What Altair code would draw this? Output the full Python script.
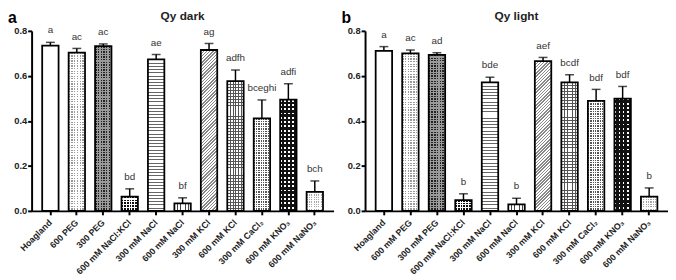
import math
import altair as alt
import pandas as pd

# ---------------- data ----------------
cats_a = ["Hoagland", "600 PEG", "300 PEG", "600 mM NaCl:KCl", "300 mM NaCl",
          "600 mM NaCl", "300 mM KCl", "600 mM KCl", "300 mM CaCl₂",
          "600 mM KNO₃", "600 mM NaNO₃"]
cats_b = ["Hoagland", "600 mM PEG", "300 mM PEG", "600 mM NaCl:KCl", "300 mM NaCl",
          "600 mM NaCl", "300 mM KCl", "600 mM KCl", "300 mM CaCl₂",
          "600 mM KNO₃", "600 mM NaNO₃"]
mean_a = [0.734, 0.703, 0.732, 0.063, 0.673, 0.033, 0.715, 0.577, 0.411, 0.494, 0.084]
sd_a = [0.015, 0.019, 0.010, 0.035, 0.022, 0.025, 0.029, 0.049, 0.082, 0.071, 0.049]
let_a = ["a", "ac", "ac", "bd", "ae", "bf", "ag", "adfh", "bceghi", "adfi", "bch"]
mean_b = [0.711, 0.700, 0.693, 0.048, 0.571, 0.029, 0.666, 0.571, 0.489, 0.499, 0.063]
sd_b = [0.019, 0.015, 0.010, 0.028, 0.023, 0.027, 0.016, 0.034, 0.051, 0.054, 0.039]
let_b = ["a", "ac", "ad", "b", "bde", "b", "aef", "bcdf", "bdf", "bdf", "b"]
patterns = ["white", "dots_light", "dots_dark", "squares", "hlines", "vlines",
            "diag", "grid", "dots_mid", "dots_inv", "dots_light2"]
yticks = [0.0, 0.2, 0.4, 0.6, 0.8]

H = 183
YMAX = 0.8
PI, PO = 0.38, 0.4
FONT = "Liberation Sans"
CLEAR = "rgba(255,255,255,0)"


def stripes(n, fg, bg, frac):
    n = max(1, int(round(n)))
    st = []
    for i in range(n):
        a, b, c = i / n, (i + frac) / n, (i + 1) / n
        st += [(a, fg), (b, fg), (b, bg), (c, bg)]
    return st


def grad(x2, y2, st):
    return alt.LinearGradient(
        gradient="linear", x1=0, y1=0, x2=x2, y2=y2,
        stops=[alt.GradientStop(offset=round(o, 5), color=c) for o, c in st])


def pattern_fills(p, w, h):
    if p == "white":
        return ["white"]
    if p == "hlines":
        return [grad(0, 1, stripes(h / 3.3, "#666", "white", 0.3))]
    if p == "vlines":
        return [grad(1, 0, stripes(w / 3.0, "#444", "white", 0.3))]
    if p == "grid":
        return [grad(1, 0, stripes(w / 3.0, "#555", "white", 0.3)),
                grad(0, 1, stripes(h / 3.0, "#555", CLEAR, 0.3))]
    if p == "diag":
        s = (w + h) / (w * w + h * h)
        n = (w + h) / math.sqrt(2) / 2.3
        return [grad(s * w, s * h, stripes(n, "#888", "white", 0.45))]

    def dots(fg, bg, period, f):
        return [grad(1, 0, stripes(w / period, fg, bg, f)),
                grad(0, 1, stripes(h / period, CLEAR, bg, f))]
    if p == "dots_light":
        return dots("#9a9a9a", "white", 2.6, 0.5)
    if p == "dots_light2":
        return dots("#a8a8a8", "white", 2.4, 0.5)
    if p == "dots_dark":
        return dots("#222", "#9a9a9a", 2.6, 0.55)
    if p == "dots_mid":
        return dots("#555", "white", 2.5, 0.6)
    if p == "squares":
        return dots("#111", "white", 3.0, 0.6)
    if p == "dots_inv":
        return dots("white", "#111", 4.3, 0.45)
    return ["white"]


def panel(cats, means, sds, lets, W, title, letter):
    df = pd.DataFrame({"i": list(range(len(cats))), "cat": cats, "mean": means,
                       "sd": sds, "let": lets})
    df["top"] = df["mean"] + df["sd"]
    n = len(cats)
    step = W / (n - PI + 2 * PO)
    bw = step * (1 - PI)
    xenc = alt.X("cat:N", sort=cats,
                 scale=alt.Scale(domain=cats, paddingInner=PI, paddingOuter=PO),
                 axis=alt.Axis(title=None, labelAngle=-45, labelAlign="right",
                               labelBaseline="middle", labelFont=FONT,
                               labelFontSize=9, labelFontWeight="bold",
                               labelColor="#222", labelPadding=6,
                               domainColor="black", domainWidth=2,
                               tickColor="black", tickWidth=2, tickSize=4))
    yscale = alt.Scale(domain=[0, YMAX], nice=False)
    yenc = alt.Y("mean:Q", scale=yscale,
                 axis=alt.Axis(title=None, values=yticks, format=".1f",
                               labelFont=FONT, labelFontSize=9.5,
                               labelFontWeight="bold", labelColor="#222",
                               labelPadding=1, domainColor="black",
                               domainWidth=2, tickColor="black", tickWidth=2,
                               tickSize=4, grid=False))
    base = alt.Chart(df)
    layers = []
    for k in range(n):
        h = means[k] * H / YMAX
        for f in pattern_fills(patterns[k], bw, h):
            layers.append(
                base.transform_filter(alt.datum.i == k)
                .mark_bar(fill=f, stroke=None, strokeWidth=0)
                .encode(x=xenc, y=yenc))
    outline = base.mark_bar(fill=None, stroke="black", strokeWidth=1.8).encode(
        x=xenc, y=yenc)
    err = base.mark_rule(color="black", strokeWidth=1.5).encode(
        x=xenc, y=alt.Y("mean:Q", scale=yscale), y2="top:Q")
    cap = base.mark_tick(color="black", thickness=1.5, size=9,
                         orient="horizontal").encode(
        x=xenc, y=alt.Y("top:Q", scale=yscale))
    txt = base.mark_text(font=FONT, fontSize=10, color="#333", baseline="bottom",
                         dy=-7).encode(
        x=xenc, y=alt.Y("top:Q", scale=yscale), text="let:N")
    one = alt.Chart(pd.DataFrame({"t": [title], "l": [letter]}))
    ttl = one.mark_text(font=FONT, fontSize=12, fontWeight="bold",
                        color="#222", baseline="top", align="center").encode(
        x=alt.value(W / 2), y=alt.value(-20), text="t:N")
    plet = one.mark_text(font=FONT, fontSize=16, fontWeight="bold",
                         color="black", baseline="top", align="left").encode(
        x=alt.value(-24), y=alt.value(-21), text="l:N")
    return alt.layer(*layers, outline, err, cap, txt, ttl, plet).properties(
        width=W, height=H)


pa = panel(cats_a, mean_a, sd_a, let_a, 307, "Qy dark", "a")
pb = panel(cats_b, mean_b, sd_b, let_b, 308, "Qy light", "b")

chart = alt.hconcat(pa, pb, spacing=8).configure_view(stroke=None).properties(
    padding={"left": 0, "top": 0, "right": 0, "bottom": 0})

chart.save("out.html", embed_options={"renderer": "svg", "actions": False})
